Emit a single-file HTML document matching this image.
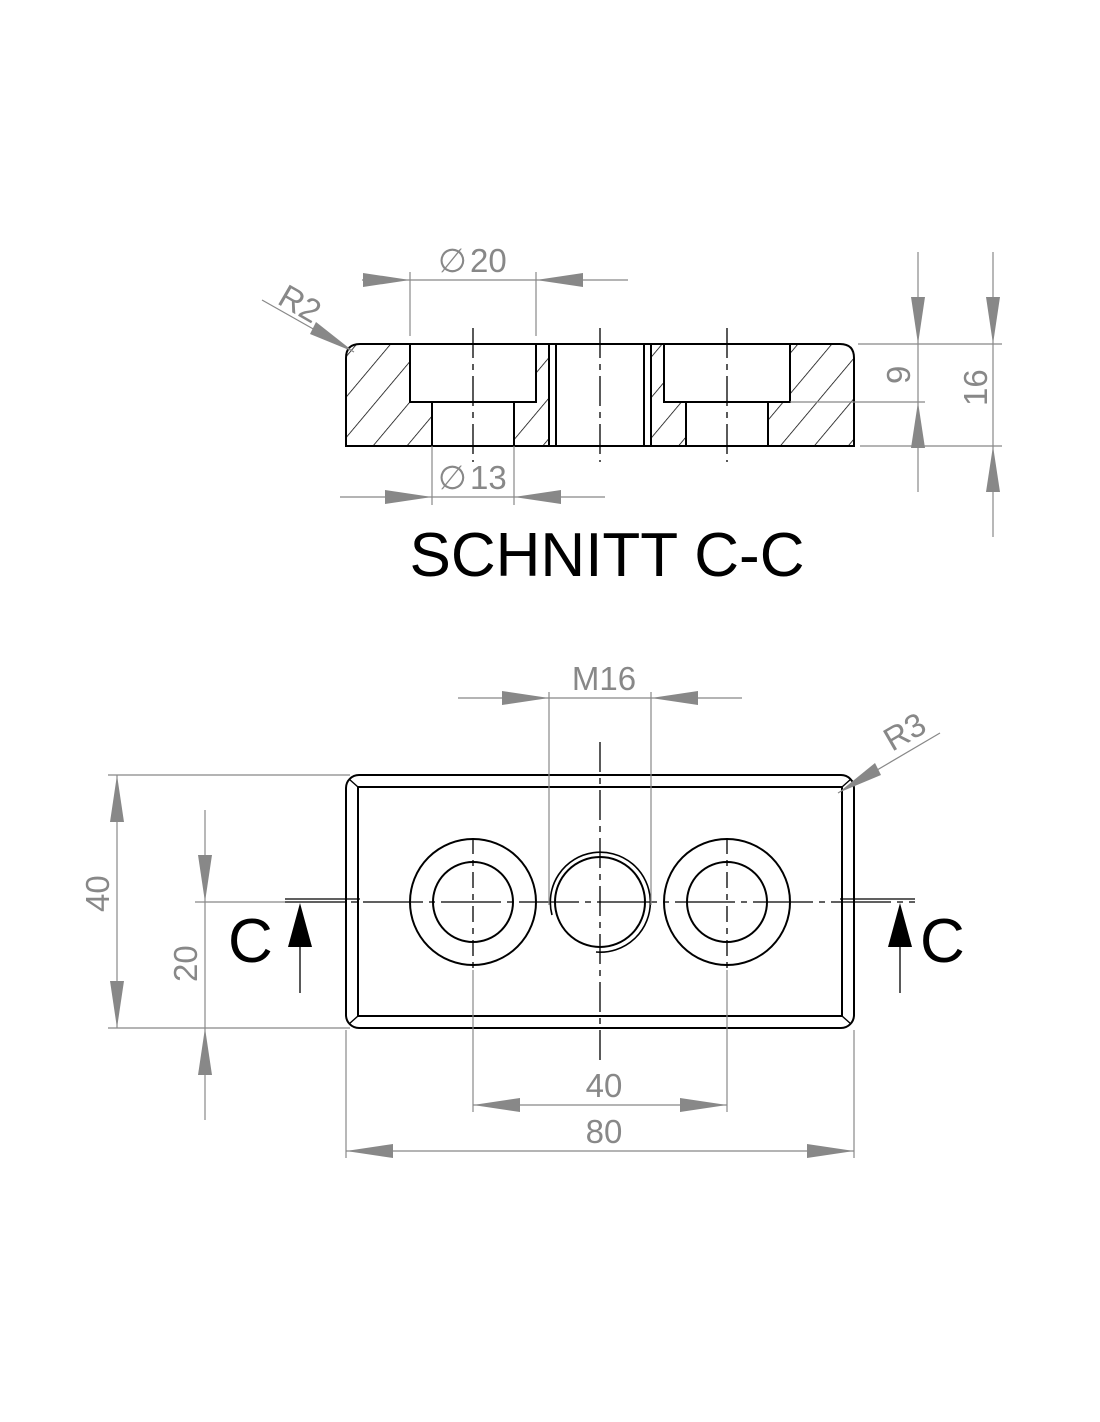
<!DOCTYPE html>
<html><head><meta charset="utf-8"><style>
html,body{margin:0;padding:0;background:#fff}
svg{display:block}
text{font-family:"Liberation Sans",sans-serif}
</style></head><body>
<svg width="1100" height="1422" viewBox="0 0 1100 1422" xmlns="http://www.w3.org/2000/svg">
<defs>
<pattern id="h" patternUnits="userSpaceOnUse" width="26" height="26" patternTransform="rotate(-50 0 0)">
<line x1="0" y1="0" x2="26" y2="0" stroke="#000" stroke-width="1.6"/>
</pattern>
</defs>

<!-- ===== SECTION VIEW ===== -->
<g>
<path d="M346,358 Q346,344 360,344 L410,344 L410,402 L432,402 L432,446 L346,446 Z" fill="url(#h)"/>
<path d="M536,344 L549,344 L549,446 L514,446 L514,402 L536,402 Z" fill="url(#h)"/>
<path d="M651,344 L664,344 L664,402 L686,402 L686,446 L651,446 Z" fill="url(#h)"/>
<path d="M790,344 L840,344 Q854,344 854,358 L854,446 L768,446 L768,402 L790,402 Z" fill="url(#h)"/>
<g fill="none" stroke="#000" stroke-width="2">
<path d="M346,446 L346,358 Q346,344 360,344 L840,344 Q854,344 854,358 L854,446 Z"/>
<path d="M410,344 L410,402 L536,402 L536,344"/>
<path d="M432,402 L432,446 M514,402 L514,446"/>
<path d="M664,344 L664,402 L790,402 L790,344"/>
<path d="M686,402 L686,446 M768,402 L768,446"/>
<path d="M549,344 L549,446 M556,344 L556,446 M644,344 L644,446 M651,344 L651,446"/>
</g>
<g stroke="#000" stroke-width="1.3" stroke-dasharray="30,6,6,6">
<line x1="473" y1="328" x2="473" y2="462"/>
<line x1="600" y1="328" x2="600" y2="462"/>
<line x1="727" y1="328" x2="727" y2="462"/>
</g>
</g>

<!-- section dims -->
<g stroke="#888" stroke-width="1.2" fill="none">
<line x1="362" y1="280" x2="628" y2="280"/>
<line x1="410" y1="272" x2="410" y2="336"/>
<line x1="536" y1="272" x2="536" y2="336"/>
<line x1="340" y1="497" x2="605" y2="497"/>
<line x1="432" y1="446" x2="432" y2="505"/>
<line x1="514" y1="446" x2="514" y2="505"/>
<line x1="262" y1="300" x2="354" y2="352"/>
<line x1="918" y1="252" x2="918" y2="492"/>
<line x1="993" y1="252" x2="993" y2="537"/>
<line x1="858" y1="344" x2="1002" y2="344"/>
<line x1="790" y1="402" x2="925" y2="402"/>
<line x1="860" y1="446" x2="1002" y2="446"/>
</g>
<g fill="#888">
<polygon points="410,280 363,273 363,287"/>
<polygon points="536,280 583,273 583,287"/>
<polygon points="432,497 385,490 385,504"/>
<polygon points="514,497 561,490 561,504"/>
<polygon points="354,352 316,322 310,334"/>
<polygon points="918,344 911,297 925,297"/>
<polygon points="918,402 911,448 925,448"/>
<polygon points="993,344 986,297 1000,297"/>
<polygon points="993,446 986,492 1000,492"/>
</g>
<g fill="#888" font-size="33">
<text x="438" y="272">∅</text><text x="470" y="272">20</text>
<text x="438" y="489">∅</text><text x="470" y="489">13</text>
<text x="0" y="0" transform="translate(276,303) rotate(30)">R2</text>
<text x="0" y="0" transform="translate(910,384) rotate(-90)">9</text>
<text x="0" y="0" transform="translate(987,406) rotate(-90)">16</text>
</g>
<text x="607" y="576" font-size="62" text-anchor="middle" fill="#000">SCHNITT C-C</text>

<!-- ===== TOP VIEW ===== -->
<g fill="none" stroke="#000" stroke-width="2">
<rect x="346" y="775" width="508" height="253" rx="13"/>
<rect x="358" y="787" width="484" height="229"/>
<path d="M349,779 L358,787 M851,779 L842,787 M349,1024 L358,1016 M851,1024 L842,1016" stroke-width="1.4"/>
<circle cx="473" cy="902" r="63"/>
<circle cx="473" cy="902" r="40"/>
<circle cx="727" cy="902" r="63"/>
<circle cx="727" cy="902" r="40"/>
<circle cx="600" cy="902" r="45"/>
<path d="M552,915 A50,50 0 1 1 596,952" stroke-width="1.6"/>
</g>
<g stroke="#000" stroke-width="1.3">
<line x1="285" y1="902" x2="915" y2="902" stroke-dasharray="60,6,6,6"/>
<line x1="473" y1="838" x2="473" y2="968" stroke-dasharray="16,6,6,6"/>
<line x1="727" y1="838" x2="727" y2="968" stroke-dasharray="16,6,6,6"/>
<line x1="600" y1="742" x2="600" y2="1062" stroke-dasharray="30,6,6,6"/>
<line x1="285" y1="899" x2="360" y2="899"/>
<line x1="840" y1="899" x2="915" y2="899"/>
<line x1="300" y1="945" x2="300" y2="993"/>
<line x1="900" y1="945" x2="900" y2="993"/>
</g>
<g fill="#000">
<polygon points="300,903 288,947 312,947"/>
<polygon points="900,903 888,947 912,947"/>
</g>
<g font-size="62" fill="#000">
<text x="228" y="962">C</text>
<text x="920" y="962">C</text>
</g>

<!-- top view dims -->
<g stroke="#888" stroke-width="1.2" fill="none">
<line x1="458" y1="698" x2="742" y2="698"/>
<line x1="549" y1="692" x2="549" y2="905"/>
<line x1="651" y1="692" x2="651" y2="905"/>
<line x1="940" y1="733" x2="838" y2="793"/>
<line x1="117" y1="775" x2="117" y2="1028"/>
<line x1="108" y1="775" x2="350" y2="775"/>
<line x1="108" y1="1028" x2="350" y2="1028"/>
<line x1="205" y1="810" x2="205" y2="1120"/>
<line x1="195" y1="902" x2="285" y2="902"/>
<line x1="473" y1="1105" x2="727" y2="1105"/>
<line x1="473" y1="970" x2="473" y2="1112"/>
<line x1="727" y1="970" x2="727" y2="1112"/>
<line x1="346" y1="1030" x2="346" y2="1158"/>
<line x1="854" y1="1030" x2="854" y2="1158"/>
<line x1="346" y1="1151" x2="854" y2="1151"/>
</g>
<g fill="#888">
<polygon points="549,698 502,691 502,705"/>
<polygon points="651,698 698,691 698,705"/>
<polygon points="838,793 875,763 881,775"/>
<polygon points="117,775 110,822 124,822"/>
<polygon points="117,1028 110,981 124,981"/>
<polygon points="205,902 198,855 212,855"/>
<polygon points="205,1028 198,1075 212,1075"/>
<polygon points="473,1105 520,1098 520,1112"/>
<polygon points="727,1105 680,1098 680,1112"/>
<polygon points="346,1151 393,1144 393,1158"/>
<polygon points="854,1151 807,1144 807,1158"/>
</g>
<g fill="#888" font-size="33">
<text x="604" y="690" text-anchor="middle">M16</text>
<text x="0" y="0" transform="translate(892,752) rotate(-30)">R3</text>
<text x="0" y="0" transform="translate(109,912) rotate(-90)">40</text>
<text x="0" y="0" transform="translate(197,982) rotate(-90)">20</text>
<text x="604" y="1097" text-anchor="middle">40</text>
<text x="604" y="1143" text-anchor="middle">80</text>
</g>
</svg>
</body></html>
